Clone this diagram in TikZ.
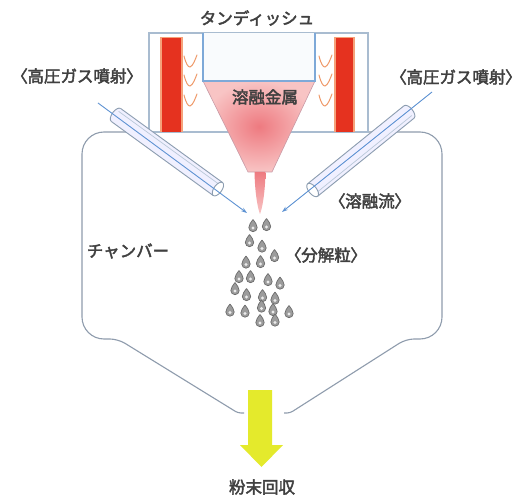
\documentclass[tikz,border=0pt]{standalone}
\usepackage{fontspec}
\usetikzlibrary{arrows.meta}
\newfontfamily\jp{Noto Sans CJK JP}[FakeBold=2.5]
\newfontfamily\jpnarrow{Noto Sans CJK JP}[RawFeature=+palt, FakeBold=2.5]
\newcommand\lbr{{\jpnarrow 〈}}
\newcommand\rbr{{\jpnarrow 〉}}

\definecolor{txt}{HTML}{404040}
\definecolor{tubeline}{HTML}{8C9DB0}
\definecolor{tubeinner}{HTML}{B9C8D8}
\definecolor{gasblue}{HTML}{5F93D3}
\definecolor{chamberline}{HTML}{8F9CAD}
\definecolor{tundishline}{HTML}{A9BCD0}
\definecolor{innerblue}{HTML}{7EA9D8}
\definecolor{heater}{HTML}{E5321F}
\definecolor{heateredge}{HTML}{F5A27A}
\definecolor{vmark}{HTML}{EF9A6A}
\definecolor{meltin}{HTML}{EE7A80}
\definecolor{meltout}{HTML}{F8C4C4}
\definecolor{meltline}{HTML}{C99AA6}
\definecolor{arrowyellow}{HTML}{E4EA2C}
\definecolor{dropfill}{HTML}{9C9C9C}
\definecolor{dropline}{HTML}{6C6C6C}

\tikzset{
  lbl/.style={font=\jp\fontsize{16.5}{18}\selectfont, text=txt, inner sep=0pt},
  gasjet/.style={gasblue, line width=0.9pt, -{Stealth[length=6pt,width=4pt]}},
  tubeedge/.style={tubeline, line width=0.9pt},
  vheat/.style={vmark, line width=1pt, line cap=round},
  droplet/.pic={
    \draw[dropline, fill=dropfill, line width=0.7pt]
      (0,-6.5) .. controls (2.2,-3.5) and (4.2,-1) .. (4.2,1.5)
      arc (0:180:4.2)
      .. controls (-4.2,-1) and (-2.2,-3.5) .. (0,-6.5);
    \fill[white!80!dropfill] (0,2) circle (1.6);
  },
  nozzle/.pic={
    % cylinder body along local x, length \tubelen
    \fill[white!94!blue] (0,-8) -- (\tubelen,-8) -- (\tubelen,8) -- (0,8) arc (90:270:4 and 8);
    \draw[tubeinner, line width=0.7pt] (0,-4.5) -- (\tubelen,-4.5);
    \draw[tubeedge] (0,-8) -- (\tubelen,-8);
    \draw[tubeedge] (0,8) -- (\tubelen,8);
    \draw[tubeedge] (0,8) arc (90:270:4 and 8);
    \draw[tubeedge, fill=white] (\tubelen,0) ellipse (4 and 8);
  }
}
\newcommand\tubelen{120}

\begin{document}
\begin{tikzpicture}[x=1pt, y=-1pt]
\useasboundingbox (0,0) rectangle (525,497);
\fill[white] (0,0) rectangle (525,497);

% chamber outline with collecting hopper
\draw[chamberline, line width=1.1pt]
  (244,413) [rounded corners=3] -- (238,413) [rounded corners=8] -- (118,339)
  [rounded corners=22] -- (82,339) -- (82,132) -- (442,132) -- (442,339)
  [rounded corners=8] -- (406,339) [rounded corners=3] -- (290,413) -- (284,413);

% tundish
\fill[white] (149,33) rectangle (368,132);
\draw[tundishline, line width=1.3pt] (149,33) rectangle (368,132);

% heaters
\fill[heateredge] (160,37) rectangle (183,132);
\fill[heater] (162,38) rectangle (181,132);
\fill[heateredge] (334,37) rectangle (355,132);
\fill[heater] (336,38) rectangle (353,132);

% heat marks
\foreach \yy in {62,81,101} {
  \draw[vheat] (184,\yy-6) .. controls (186,\yy+2) and (188,\yy+5) .. (190,\yy+5)
               .. controls (193,\yy+4) and (195,\yy-2) .. (197,\yy-7);
  \draw[vheat] (319,\yy-6) .. controls (321,\yy+2) and (323,\yy+5) .. (325,\yy+5)
               .. controls (328,\yy+4) and (330,\yy-2) .. (332,\yy-7);
}

% crucible and molten metal
\fill[white!95!innerblue] (203,33) rectangle (315,81);
\shade[inner color=meltin, outer color=meltout]
  (203,81) -- (315,81) -- (272,172) -- (248,172) -- cycle;
\draw[meltline, line width=0.6pt] (203,81) -- (248,172) -- (272,172) -- (315,81);
\draw[innerblue, line width=1.5pt] (203,33) -- (203,81) -- (315,81) -- (315,33);

% molten stream
\shade[top color=meltin, bottom color=meltout]
  (254.5,172) -- (265.5,172) .. controls (265,195) and (262,209) .. (260,214)
  .. controls (258,209) and (255,195) .. (254.5,172);

% gas nozzles
\coordinate (gasL0) at (98,103);
\coordinate (gasL1) at (247,213);
\coordinate (gasR0) at (432,92);
\coordinate (gasR1) at (282,212);

\begin{scope}[shift={(116,115)}, rotate=-36]
  \renewcommand\tubelen{126}
  \pic[transform shape] {nozzle};
\end{scope}
\begin{scope}[shift={(409,112)}, rotate=219]
  \renewcommand\tubelen{124}
  \pic[transform shape] {nozzle};
\end{scope}
\draw[gasjet] (gasL0) -- (gasL1);
\draw[gasjet] (gasR0) -- (gasR1);

% atomised particles
\foreach \px/\py in {253/226, 266.5/225, 249.5/241, 262/246.5, 274.5/256,
  246/262.5, 260.5/262, 239/277, 250.5/277, 268/280, 280/283.5,
  235/289, 246.5/295, 262.5/296, 275/298.5, 230/310.5, 245/311.5,
  261.5/306.5, 273/310, 289/312, 260/321, 275/320.5} {
  \pic at (\px,\py) {droplet};
}

% powder collection arrow
\fill[arrowyellow] (248,390) -- (272,390) -- (272,445) -- (283,445)
  -- (261.5,467) -- (240,445) -- (248,445) -- cycle;

% labels
\node[lbl] (tundishLabel) at (257,18) {タンディッシュ};
\node[lbl] (meltLabel) at (265,97) {溶融金属};
\node[lbl] (gasLabelL) at (77,76) {\lbr 高圧ガス噴射\rbr};
\node[lbl] (gasLabelR) at (456,77) {\lbr 高圧ガス噴射\rbr};
\node[lbl] (streamLabel) at (370,201) {\lbr 溶融流\rbr};
\node[lbl] (particleLabel) at (326,255) {\lbr 分解粒\rbr};
\node[lbl] (chamberLabel) at (128,251) {チャンバー};
\node[lbl] (powderLabel) at (262,487) {粉末回収};
\end{tikzpicture}
\end{document}
